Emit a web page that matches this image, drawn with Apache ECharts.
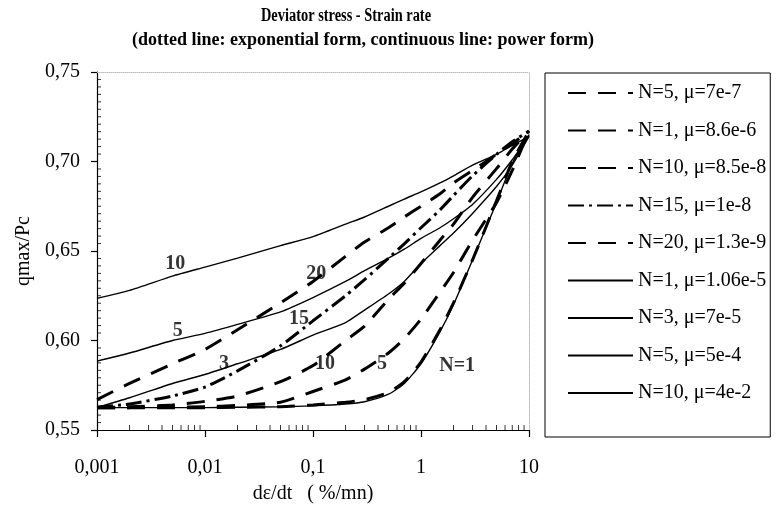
<!DOCTYPE html>
<html>
<head>
<meta charset="utf-8">
<script src="https://cdn.jsdelivr.net/npm/echarts@6/dist/echarts.min.js"></script>
<style>html,body{margin:0;padding:0;background:#fff}#c{width:778px;height:509px}</style>
</head>
<body>
<div id="c"></div>
<script>
// ---- data ----
var xs = [0.001, 0.002, 0.005, 0.01, 0.02, 0.05, 0.1, 0.2, 0.3, 0.5, 0.7, 1, 1.5, 2, 3, 5, 7, 10];

var expN5  = [0.5625,0.5625,0.5627,0.563,0.5637,0.5655,0.5715,0.578,0.584,0.593,0.601,0.612,0.627,0.638,0.656,0.677,0.695,0.717];
var expN1  = [0.5625,0.5625,0.5625,0.5625,0.5627,0.563,0.564,0.5655,0.567,0.571,0.577,0.588,0.606,0.621,0.645,0.678,0.700,0.717];
var expN10 = [0.5625,0.563,0.564,0.566,0.569,0.577,0.586,0.600,0.608,0.623,0.632,0.643,0.656,0.665,0.680,0.696,0.707,0.717];
var expN15 = [0.5628,0.5645,0.569,0.574,0.583,0.597,0.611,0.625,0.634,0.646,0.654,0.663,0.673,0.681,0.692,0.704,0.711,0.717];
var expN20 = [0.567,0.576,0.587,0.595,0.606,0.621,0.633,0.647,0.655,0.663,0.669,0.675,0.682,0.688,0.695,0.704,0.710,0.717];

var powN1  = [0.5625,0.5625,0.5625,0.5625,0.5627,0.563,0.5635,0.5645,0.5658,0.570,0.576,0.587,0.605,0.620,0.645,0.677,0.699,0.715];
var powN3  = [0.5625,0.568,0.576,0.581,0.587,0.595,0.603,0.610,0.617,0.626,0.633,0.643,0.653,0.660,0.671,0.686,0.698,0.714];
var powN5  = [0.5885,0.593,0.600,0.604,0.609,0.616,0.624,0.633,0.639,0.646,0.651,0.657,0.663,0.668,0.676,0.690,0.701,0.714];
var powN10 = [0.6235,0.628,0.636,0.641,0.646,0.653,0.658,0.665,0.669,0.675,0.679,0.683,0.688,0.692,0.698,0.704,0.709,0.714];

var seriesNames = [
  'N=5, \u03bc=7e-7', 'N=1, \u03bc=8.6e-6', 'N=10, \u03bc=8.5e-8', 'N=15, \u03bc=1e-8', 'N=20, \u03bc=1.3e-9',
  'N=1, \u03bc=1.06e-5', 'N=3, \u03bc=7e-5', 'N=5, \u03bc=5e-4', 'N=10, \u03bc=4e-2'
];
var seriesValues = [expN5, expN1, expN10, expN15, expN20, powN1, powN3, powN5, powN10];

var xTickLabels = ['0,001', '0,01', '0,1', '1', '10'];
var yTickLabels = ['0,55', '0,60', '0,65', '0,70', '0,75'];

// curve annotations
var curveLabelX = [0.0053, 0.0056, 0.015, 0.107, 0.074, 0.129, 0.436, 2.16];
var curveLabelY = [0.643, 0.6056, 0.587, 0.637, 0.612, 0.587, 0.5867, 0.586];
var curveLabelText = ['10', '5', '3', '20', '15', '10', '5', 'N=1'];

// ---- chart ----
var SERIF = '"Liberation Serif", "Times New Roman", serif';
var dashStyles = [[18, 12], [18, 12], [18, 12], [16, 5, 3, 5], [18, 12]];

var series = seriesValues.map(function (vals, i) {
  var dashed = i < 5;
  return {
    name: seriesNames[i],
    type: 'line',
    xAxisIndex: 0, yAxisIndex: 0,
    data: xs.map(function (x, k) { return [x, vals[k]]; }),
    symbol: 'none',
    smooth: 0.2,
    lineStyle: dashed ? { color: '#000', width: 3, type: dashStyles[i] } : { color: '#000', width: 1.4, type: 'solid' },
    itemStyle: { color: '#000' },
    emphasis: { disabled: true },
    z: dashed ? 3 : 2
  };
});

series.push({
  type: 'scatter',
  xAxisIndex: 0, yAxisIndex: 0,
  symbolSize: 0,
  data: curveLabelX.map(function (x, i) { return { value: [x, curveLabelY[i]], name: curveLabelText[i] }; }),
  label: {
    show: true, position: 'inside', formatter: '{b}',
    color: '#000', fontFamily: SERIF, fontWeight: 'bold', fontSize: 20
  },
  silent: true, z: 5
});

// minor tick marks (inside the plot), placed through the axes' own scales
var minorX = [];
for (var d = -3; d < 1; d++) for (var m = 2; m <= 9; m++) minorX.push(m * Math.pow(10, d));
var minorY = [];
for (var j = 1; j < 48; j++) if (j % 12 !== 0) minorY.push(+(0.55 + j * 0.05 / 12).toFixed(5));

series.push({
  type: 'scatter', xAxisIndex: 0, yAxisIndex: 0, clip: false, silent: true,
  symbol: 'rect', symbolSize: [1, 5], symbolOffset: [0, -2.5],
  itemStyle: { color: '#000' },
  data: minorX.map(function (v) { return [v, 0.55]; }), z: 6
});
series.push({
  type: 'scatter', xAxisIndex: 0, yAxisIndex: 0, clip: false, silent: true,
  symbol: 'rect', symbolSize: [4, 1], symbolOffset: [2, 0],
  itemStyle: { color: '#000' },
  data: minorY.map(function (v) { return [0.001, v]; }), z: 6
});

var option = {
  animation: false,
  backgroundColor: '#fff',
  grid: { left: 97, top: 72, width: 432, height: 361, containLabel: false },
  graphic: [
    { type: 'text', x: 346, y: 16, scaleX: 0.8, style: { text: 'Deviator stress - Strain rate', font: 'bold 18px ' + SERIF, fill: '#000', textAlign: 'center', textVerticalAlign: 'middle' } },
    { type: 'text', x: 363, y: 40, style: { text: '(dotted line: exponential form, continuous line: power form)', font: 'bold 18px ' + SERIF, fill: '#000', textAlign: 'center', textVerticalAlign: 'middle' } }
  ],
  legend: {
    orient: 'vertical',
    left: 545, top: 73,
    padding: [10, 4, 34, 22],
    itemWidth: 65, itemHeight: 14, itemGap: 17.5,
    borderColor: '#000', borderWidth: 1, borderRadius: 0,
    backgroundColor: '#fff',
    data: seriesNames,
    selectedMode: false,
    itemStyle: { opacity: 0 },
    textStyle: { color: '#000', fontFamily: SERIF, fontSize: 20, lineHeight: 20 }
  },
  xAxis: [
    {
      type: 'log', logBase: 10, min: 0.001, max: 10, position: 'bottom',
      axisLine: { show: true, lineStyle: { color: '#000', width: 1.2 } },
      axisTick: { show: true, inside: false, length: 7, lineStyle: { color: '#000', width: 1.2 } },
      axisLabel: {
        margin: 28, color: '#000', fontFamily: SERIF, fontSize: 20,
        formatter: function (v) { return xTickLabels[Math.round(Math.log10(v)) + 3]; }
      },
      splitLine: { show: false }, minorTick: { show: false },
      name: 'd\u03b5/dt   ( %/mn)', nameLocation: 'middle', nameGap: 54,
      nameTextStyle: { color: '#000', fontFamily: SERIF, fontSize: 20 }
    },
    {
      type: 'log', logBase: 10, min: 0.001, max: 10, position: 'top',
      axisLine: { show: true, lineStyle: { color: '#bbb', width: 1, type: 'dotted' } },
      axisTick: { show: false }, axisLabel: { show: false }, splitLine: { show: false }
    }
  ],
  yAxis: [
    {
      type: 'value', min: 0.55, max: 0.75, interval: 0.05, position: 'left',
      axisLine: { show: true, lineStyle: { color: '#000', width: 1.2 } },
      axisTick: { show: true, inside: false, length: 6, lineStyle: { color: '#000', width: 1.2 } },
      axisLabel: {
        margin: 17, color: '#000', fontFamily: SERIF, fontSize: 20,
        formatter: function (v) { return yTickLabels[Math.round((v - 0.55) / 0.05)]; }
      },
      splitLine: { show: false },
      name: 'qmax/Pc', nameLocation: 'middle', nameGap: 54, nameRotate: 90,
      nameTextStyle: { color: '#000', fontFamily: SERIF, fontSize: 20 }
    },
    {
      type: 'value', min: 0.55, max: 0.75, position: 'right',
      axisLine: { show: true, lineStyle: { color: '#bbb', width: 1, type: 'dotted' } },
      axisTick: { show: false }, axisLabel: { show: false }, splitLine: { show: false }
    }
  ],
  series: series
};

var chart = echarts.init(document.getElementById('c'), null, { renderer: 'canvas' });
chart.setOption(option);
</script>
</body>
</html>
